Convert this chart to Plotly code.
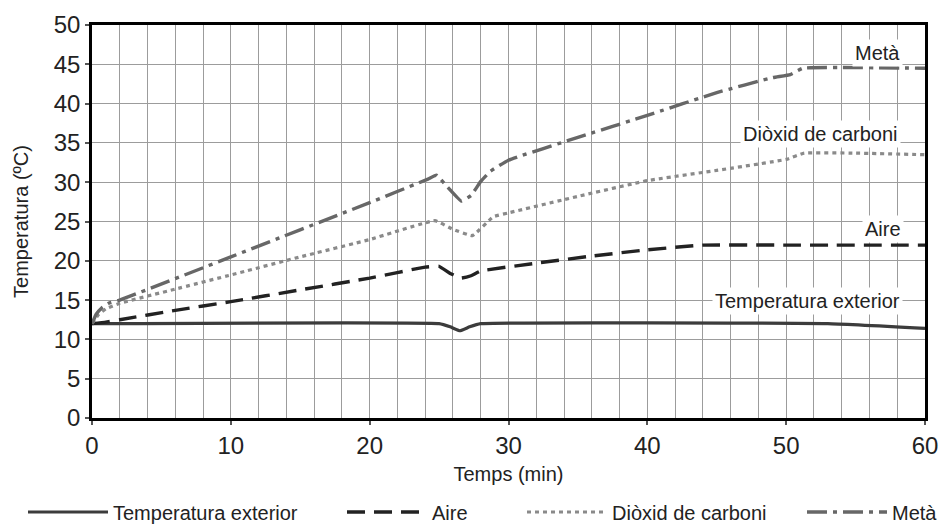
import plotly.graph_objects as go

# ---- data ----
t_ext = [0, 25.0, 25.8, 26.5, 27.2, 28.0, 53.0, 60.0]
temp_ext = [12.0, 12.0, 11.6, 11.1, 11.6, 12.0, 12.0, 11.4]

t_aire = [0, 1, 2, 6, 10, 15, 20, 24.0, 25.0, 25.8, 26.6, 27.3, 28.0, 32, 36, 40, 44, 50, 60]
temp_aire = [12.0, 12.2, 12.5, 13.7, 14.8, 16.3, 17.8, 19.2, 19.3, 18.4, 17.8, 18.1, 18.7,
             19.7, 20.6, 21.4, 22.0, 22.0, 22.0]

t_co2 = [0, 0.5, 1, 2, 6, 10, 15, 20, 24.7, 26.0, 27.4, 28.9, 30, 35, 40, 45, 50, 51.3, 55, 60]
temp_co2 = [12.0, 13.2, 13.9, 14.6, 16.4, 18.2, 20.5, 22.7, 25.1, 24.0, 23.2, 25.6, 26.1,
            28.2, 30.2, 31.5, 32.9, 33.7, 33.7, 33.5]

t_meta = [0, 0.3, 0.7, 1.2, 2, 10, 20, 24.2, 24.8, 25.6, 26.6, 27.3, 28.0, 28.7, 30, 35,
          40, 45, 49, 50.3, 51.2, 60]
temp_meta = [12.0, 13.2, 14.0, 14.6, 15.0, 20.5, 27.4, 30.4, 30.9, 29.4, 27.6, 28.3, 30.1,
             31.4, 32.8, 35.7, 38.5, 41.4, 43.3, 43.7, 44.5, 44.5]

series_names = ["Temperatura exterior", "Aire", "Diòxid de carboni", "Metà"]
label_x = [51.55, 56.95, 52.5, 56.55]
label_y = [14.9, 24.1, 36.1, 46.5]

x_ticks = [0, 10, 20, 30, 40, 50, 60]
y_ticks = [0, 5, 10, 15, 20, 25, 30, 35, 40, 45, 50]

FONT = "Liberation Sans, Arial, sans-serif"
TXT = "#222222"

styles = [
    dict(color="#3c3c3c", width=3.2, dash="solid"),
    dict(color="#222222", width=3.4, dash="18px,9px"),
    dict(color="#8a8a8a", width=3.2, dash="4px,4px"),
    dict(color="#676767", width=3.4, dash="20px,6px,4px,6px"),
]
xs = [t_ext, t_aire, t_co2, t_meta]
ys = [temp_ext, temp_aire, temp_co2, temp_meta]
legend_ids = ["legend", "legend2", "legend3", "legend4"]

fig = go.Figure()
for name, x, y, st, lg in zip(series_names, xs, ys, styles, legend_ids):
    fig.add_trace(go.Scatter(
        x=x, y=y, name=name, mode="lines",
        line=dict(color=st["color"], width=st["width"], dash=st["dash"],
                  shape="spline", smoothing=0.3),
        legend=lg, hoverinfo="skip",
    ))

for name, ax, ay in zip(series_names, label_x, label_y):
    fig.add_annotation(x=ax, y=ay, text=name, showarrow=False,
                       font=dict(family=FONT, size=20, color=TXT),
                       bgcolor="white", borderpad=2)

W, H = 941, 524
L, R, T, B = 92, 16, 25, 106
pw = W - L - R
ph = H - T - B

def px_to_paper_x(px):
    return (px - L) / pw

def px_to_paper_y(py):
    return (H - B - py) / ph

leg_px = [28, 347, 527, 807]
common_leg = dict(orientation="h", xanchor="left", yanchor="middle",
                  y=px_to_paper_y(512), itemwidth=80,
                  font=dict(family=FONT, size=20, color=TXT),
                  bgcolor="rgba(0,0,0,0)", borderwidth=0)

layout_legends = {}
for lg, p in zip(legend_ids, leg_px):
    d = dict(common_leg)
    d["x"] = px_to_paper_x(p - 5)
    layout_legends[lg] = d

fig.update_layout(
    width=W, height=H,
    margin=dict(l=L, r=R, t=T, b=B, autoexpand=False),
    paper_bgcolor="white", plot_bgcolor="white",
    font=dict(family=FONT, color=TXT),
    showlegend=True,
    **layout_legends,
)

axis_common = dict(showline=True, linecolor="black", linewidth=2.5, mirror=True,
                   showgrid=True, gridcolor="#9c9c9c", gridwidth=1.4,
                   zeroline=False, ticks="outside", ticklen=4, tickwidth=1.5,
                   tickcolor="#555555", automargin=False,
                   tickfont=dict(family=FONT, size=24, color=TXT))

fig.update_xaxes(range=[0, 60], tickvals=x_ticks,
                 minor=dict(dtick=2, showgrid=True, gridcolor="#9c9c9c", gridwidth=1.4),
                 title=dict(text="Temps (min)",
                            font=dict(family=FONT, size=20, color=TXT),
                            standoff=10),
                 **axis_common)
fig.update_yaxes(range=[0, 50], tickvals=y_ticks,
                 title=dict(text="Temperatura (ºC)", font=dict(family=FONT, size=20, color=TXT),
                            standoff=20),
                 **axis_common)

fig.write_html("out.html",
               config={"displayModeBar": False},
               post_script="document.body.style.margin='0px';document.body.style.overflow='hidden';")
